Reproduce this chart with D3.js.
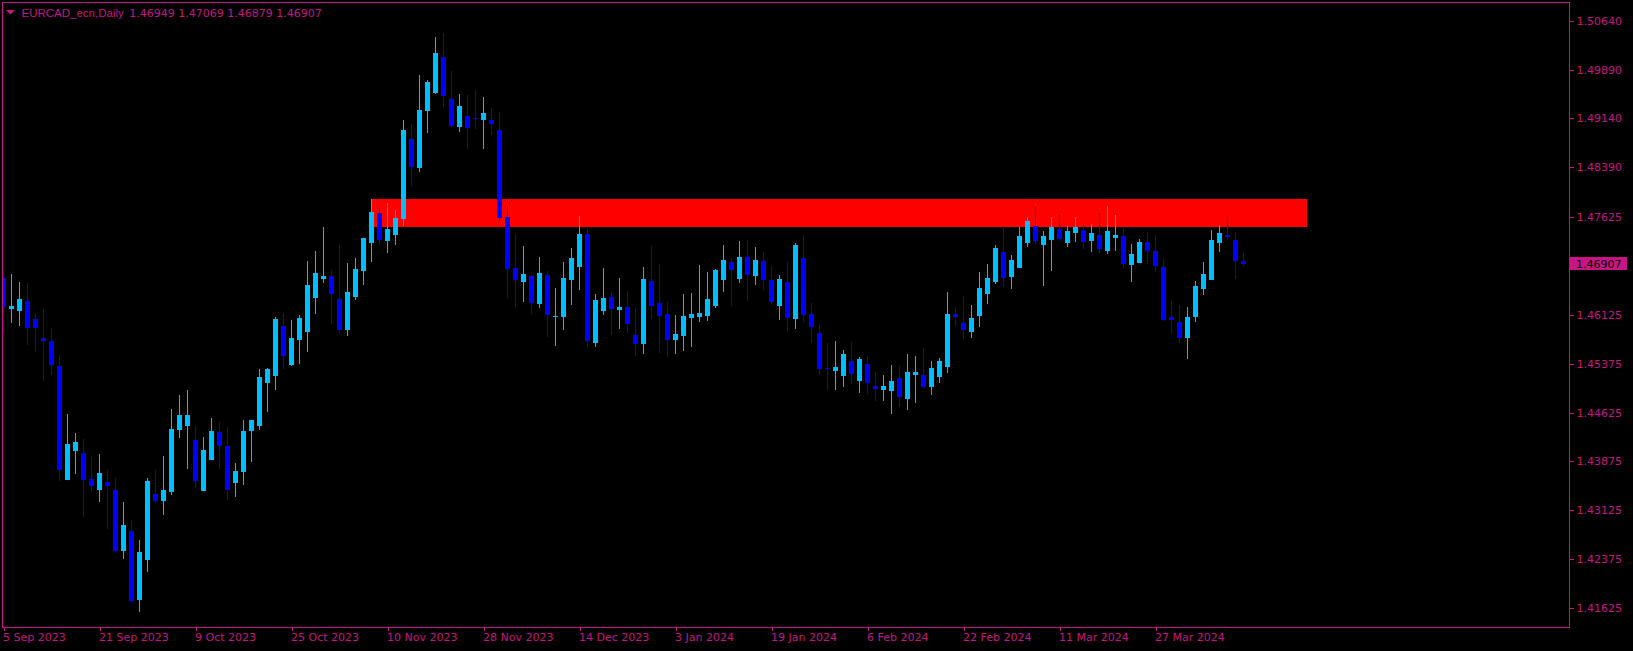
<!DOCTYPE html>
<html>
<head>
<meta charset="utf-8">
<script src="https://cdn.jsdelivr.net/npm/d3@7"></script>
<style>
  html, body { margin: 0; padding: 0; background: #000; }
  svg { display: block; }
</style>
</head>
<body>
<svg id="chart" width="1633" height="651"></svg>
<script>
// ---------- DATA ----------
const symbolTitle = "EURCAD_ecn,Daily";
const titleOHLC = ["1.46949", "1.47069", "1.46879", "1.46907"];

const open = [
1.46691,1.46215,1.46184,1.46338,1.46061,1.45770,1.45724,1.45340,1.43590,1.44036,
1.44005,1.43606,1.43437,1.43559,1.43437,1.42501,1.42808,1.41748,1.42362,1.43376,
1.43268,1.43406,1.44358,1.44419,1.44204,1.43422,1.43897,1.44327,1.44112,1.43544,
1.43713,1.44343,1.44419,1.45079,1.45186,1.45954,1.45355,1.45739,1.45862,1.46384,
1.46676,1.46722,1.46369,1.45893,1.46400,1.46799,1.47228,1.47689,1.47259,1.47351,
1.47597,1.48825,1.48379,1.49254,1.49531,1.50083,1.49439,1.49009,1.49177,1.49146,
1.49116,1.49116,1.48963,1.47628,1.46844,1.46629,1.46722,1.46292,1.46738,1.46093,
1.46093,1.46660,1.46860,1.47367,1.45693,1.46184,1.46400,1.46200,1.46246,1.45816,
1.45678,1.46645,1.46307,1.46139,1.45739,1.45801,1.46077,1.46093,1.46108,1.46261,
1.46660,1.46936,1.46676,1.47014,1.46722,1.46952,1.46660,1.46261,1.46629,1.46061,
1.46998,1.46139,1.45846,1.45309,1.45263,1.45186,1.45417,1.45110,1.45371,1.45033,
1.44972,1.44956,1.45156,1.44833,1.45201,1.45201,1.45018,1.45171,1.45324,1.46139,
1.46000,1.45862,1.46108,1.46446,1.46629,1.47090,1.46706,1.46844,1.47228,1.47489,
1.47197,1.47274,1.47443,1.47228,1.47381,1.47428,1.47259,1.47351,1.47106,1.47305,
1.47335,1.46890,1.46921,1.47243,1.47106,1.46860,1.46093,1.46015,1.45770,1.46093,
1.46522,1.46660,1.47228,1.47351,1.47274,1.46949];

const high = [
1.46783,1.46753,1.46629,1.46614,1.46154,1.46215,1.45923,1.45508,1.44604,1.44312,
1.44220,1.43959,1.43990,1.43744,1.43621,1.43252,1.42976,1.42669,1.43621,1.43744,
1.43959,1.44680,1.44894,1.44972,1.44419,1.44251,1.44542,1.44480,1.44404,1.43851,
1.44511,1.44511,1.45294,1.45309,1.46093,1.46154,1.46046,1.46123,1.46952,1.47106,
1.47474,1.46814,1.47197,1.46921,1.46998,1.47305,1.47904,1.47765,1.47842,1.47735,
1.49116,1.49055,1.49807,1.49730,1.50391,1.50452,1.49869,1.49515,1.49500,1.49577,
1.49470,1.49300,1.49239,1.47796,1.47367,1.47182,1.46738,1.47014,1.46799,1.46537,
1.46936,1.47151,1.47643,1.47443,1.46446,1.46844,1.46476,1.46691,1.46492,1.46230,
1.46860,1.47182,1.46906,1.46322,1.46123,1.46446,1.46461,1.46890,1.46783,1.46829,
1.47197,1.46998,1.47259,1.47274,1.47167,1.47090,1.46875,1.46738,1.46936,1.47228,
1.47351,1.46307,1.45970,1.45693,1.45724,1.45586,1.45709,1.45478,1.45493,1.45248,
1.45201,1.45355,1.45340,1.45524,1.45493,1.45616,1.45417,1.45463,1.46476,1.46246,
1.46415,1.46276,1.46783,1.46906,1.47197,1.47489,1.47044,1.47474,1.47628,1.47796,
1.47412,1.47628,1.47658,1.47489,1.47628,1.47520,1.47520,1.47689,1.47796,1.47658,
1.47458,1.47213,1.47289,1.47397,1.47351,1.46998,1.46338,1.46276,1.46246,1.46645,
1.46936,1.47428,1.47504,1.47643,1.47397,1.47069];

const low = [
1.45846,1.46000,1.45954,1.45662,1.45555,1.45110,1.45201,1.43575,1.43590,1.43682,
1.43022,1.43422,1.43252,1.42838,1.42470,1.42378,1.41718,1.41564,1.42178,1.43237,
1.43053,1.43360,1.44235,1.43759,1.43467,1.43422,1.43897,1.43759,1.43283,1.43330,
1.43513,1.43866,1.44358,1.44634,1.44972,1.45294,1.45340,1.45371,1.45555,1.46139,
1.46614,1.45985,1.45846,1.45801,1.46353,1.46583,1.46936,1.47197,1.47075,1.47197,
1.47489,1.48103,1.48318,1.48917,1.49515,1.49316,1.49009,1.48932,1.48671,1.48978,
1.48671,1.48886,1.47566,1.46384,1.46246,1.46322,1.46139,1.46230,1.45786,1.45647,
1.45893,1.46276,1.46507,1.45632,1.45632,1.46123,1.45816,1.45908,1.45846,1.45493,
1.45524,1.46061,1.45539,1.45478,1.45524,1.45570,1.45632,1.46015,1.46031,1.46230,
1.46476,1.46261,1.46614,1.46338,1.46583,1.46507,1.46292,1.46046,1.45877,1.45908,
1.46015,1.45693,1.45201,1.44972,1.44972,1.45018,1.45064,1.44926,1.44910,1.44803,
1.44803,1.44604,1.44711,1.44665,1.44772,1.45002,1.44894,1.45079,1.45232,1.45954,
1.45755,1.45770,1.45939,1.46292,1.46599,1.46553,1.46522,1.46844,1.47167,1.47213,
1.46568,1.46799,1.47259,1.47167,1.47243,1.47136,1.47090,1.47075,1.47059,1.47106,
1.46844,1.46629,1.46921,1.46906,1.46783,1.46031,1.45831,1.45693,1.45447,1.46015,
1.46430,1.46660,1.47090,1.47289,1.46676,1.46879];

const close = [
1.46246,1.46261,1.46369,1.45923,1.45923,1.45724,1.45355,1.43744,1.44143,1.44174,
1.43590,1.43498,1.43698,1.43498,1.42501,1.42899,1.41733,1.42485,1.43575,1.43268,
1.43437,1.44373,1.44588,1.44588,1.43575,1.44051,1.44343,1.44112,1.43437,1.43729,
1.44343,1.44511,1.45171,1.45294,1.46061,1.45493,1.45770,1.46077,1.46583,1.46768,
1.46722,1.46446,1.45893,1.46476,1.46829,1.47305,1.47704,1.47274,1.47443,1.47612,
1.48963,1.48395,1.49270,1.49699,1.50145,1.49485,1.49024,1.49331,1.48993,1.49131,
1.49224,1.49055,1.47612,1.46829,1.46660,1.46753,1.46307,1.46768,1.46123,1.46108,
1.46691,1.46998,1.47367,1.45724,1.46353,1.46384,1.46215,1.46246,1.45985,1.45678,
1.46676,1.46261,1.46108,1.45739,1.45831,1.46108,1.46139,1.46154,1.46369,1.46814,
1.46967,1.46814,1.47014,1.46738,1.46967,1.46660,1.46322,1.46676,1.46077,1.47197,
1.46123,1.45939,1.45294,1.45294,1.45324,1.45524,1.45217,1.45447,1.45079,1.44987,
1.45033,1.45110,1.44864,1.45248,1.45248,1.45018,1.45309,1.45417,1.46139,1.46093,
1.45893,1.46077,1.46537,1.46691,1.47151,1.46691,1.46967,1.47335,1.47566,1.47259,
1.47335,1.47474,1.47289,1.47412,1.47474,1.47243,1.47381,1.47136,1.47412,1.47351,
1.46906,1.47059,1.47243,1.47106,1.46875,1.46046,1.46046,1.45770,1.46093,1.46568,
1.46753,1.47274,1.47381,1.47320,1.46952,1.46907];

const xTickIndex  = [0, 12, 24, 36, 48, 60, 72, 84, 96, 108, 120, 132, 144];
const xTickLabels = ["5 Sep 2023","21 Sep 2023","9 Oct 2023","25 Oct 2023","10 Nov 2023",
  "28 Nov 2023","14 Dec 2023","3 Jan 2024","19 Jan 2024","6 Feb 2024","22 Feb 2024",
  "11 Mar 2024","27 Mar 2024"];
const yTickValues = [1.50640,1.49890,1.49140,1.48390,1.47625,1.46125,1.45375,
  1.44625,1.43875,1.43125,1.42375,1.41625];
const lastPrice = 1.46907;

// resistance zone (time anchors as bar indices, prices)
const zoneBars   = [46, 163];
const zonePrices = [1.47904, 1.47474];

// ---------- STYLE ----------
const FG = "#C71585";
const BULL = "#00BFFF";
const BEAR = "#0000FF";
const FONT = "'DejaVu Sans', Verdana, sans-serif";

const svg = d3.select("#chart");
svg.append("rect").attr("width", 1633).attr("height", 651).attr("fill", "#000");

const plot = {left: 2, top: 2, right: 1569, bottom: 627};

const x = d3.scaleLinear().domain([0, 155]).range([3.5, 1243.5]);
const y = d3.scaleLinear().domain([1.41625, 1.50640]).range([608, 20.7]);

svg.append("defs").append("clipPath").attr("id", "clip")
  .append("rect")
  .attr("x", plot.left + 1).attr("y", plot.top + 1)
  .attr("width", plot.right - plot.left - 1).attr("height", plot.bottom - plot.top - 1);

const g = svg.append("g").attr("clip-path", "url(#clip)").attr("shape-rendering", "crispEdges");

// zone rectangle
g.append("rect")
  .attr("x", x(zoneBars[0]) - 0.5)
  .attr("y", Math.round(y(zonePrices[0])))
  .attr("width", x(zoneBars[1]) - x(zoneBars[0]))
  .attr("height", Math.round(y(zonePrices[1])) - Math.round(y(zonePrices[0])))
  .attr("fill", "#FF0000");

// candles
const bars = d3.range(open.length).map(i => ({
  i, o: open[i], h: high[i], l: low[i], c: close[i]
}));

const cg = g.selectAll("g.candle").data(bars).enter().append("g").attr("class", "candle");
cg.append("rect")
  .attr("x", d => Math.floor(x(d.i)))
  .attr("width", 1)
  .attr("y", d => Math.round(y(d.h)))
  .attr("height", d => Math.max(1, Math.round(y(d.l)) - Math.round(y(d.h))))
  .attr("fill", d => d.c > d.o ? BULL : BEAR);
cg.append("rect")
  .attr("x", d => Math.floor(x(d.i)) - 2)
  .attr("width", 5)
  .attr("y", d => Math.round(y(Math.max(d.o, d.c))))
  .attr("height", d => Math.max(1, Math.round(y(Math.min(d.o, d.c))) - Math.round(y(Math.max(d.o, d.c)))))
  .attr("fill", d => d.c > d.o ? BULL : BEAR);

// frame
svg.append("rect")
  .attr("x", plot.left + 0.5).attr("y", plot.top + 0.5)
  .attr("width", plot.right - plot.left).attr("height", plot.bottom - plot.top)
  .attr("fill", "none").attr("stroke", FG).attr("stroke-width", 1)
  .attr("shape-rendering", "crispEdges");

// y axis (right)
const yAxis = d3.axisRight(y).tickValues(yTickValues).tickSize(4)
  .tickFormat(d3.format(".5f"));
const yg = svg.append("g").attr("transform", `translate(${plot.right + 0.5},0)`).call(yAxis);
yg.select(".domain").remove();
yg.selectAll("line").attr("stroke", FG).attr("shape-rendering", "crispEdges");
yg.selectAll("text").attr("fill", FG).style("font-family", FONT).style("font-size", "11px");

// current price label
const ly = y(lastPrice);
svg.append("rect")
  .attr("x", plot.right + 1).attr("y", Math.round(ly) - 7)
  .attr("width", 57).attr("height", 13)
  .attr("fill", FG).attr("shape-rendering", "crispEdges");
svg.append("text")
  .attr("x", plot.right + 7).attr("y", ly).attr("dy", "0.34em")
  .attr("fill", "#000").style("font-family", FONT).style("font-size", "11px")
  .text(d3.format(".5f")(lastPrice));

// x axis (bottom)
const xAxis = d3.axisBottom(x).tickValues(xTickIndex).tickSize(3)
  .tickFormat((d, i) => xTickLabels[i]);
const xg = svg.append("g").attr("transform", `translate(0,${plot.bottom + 0.5})`).call(xAxis);
xg.select(".domain").remove();
xg.selectAll("line").attr("stroke", FG).attr("shape-rendering", "crispEdges");
xg.selectAll("text").attr("fill", FG).attr("text-anchor", "start").attr("dx", "-1")
  .style("font-family", FONT).style("font-size", "11px");

// title
svg.append("path").attr("d", "M6,10 L15,10 L10.5,14.5 Z").attr("fill", FG);
const title = svg.append("text").attr("x", 21.5).attr("y", 17)
  .attr("fill", FG).style("font-family", FONT).style("font-size", "11px");
title.append("tspan").style("font-family", "'Liberation Sans', Arial, sans-serif")
  .style("font-size", "11.5px").text(symbolTitle);
title.append("tspan").attr("x", 129.3).text(titleOHLC.join(" "));
</script>
</body>
</html>
